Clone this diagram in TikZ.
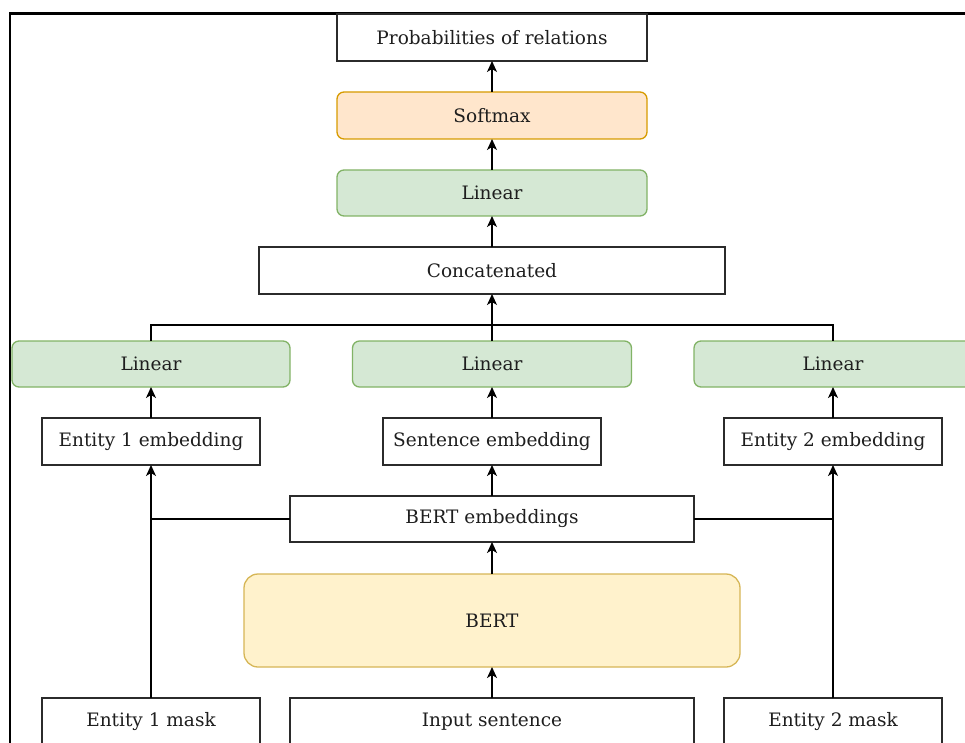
\documentclass[tikz,border=0pt]{standalone}
\usepackage{fontspec}
\setmainfont{DejaVu Serif}
\usetikzlibrary{arrows.meta,calc}
\definecolor{greenfill}{HTML}{D5E8D4}
\definecolor{greenline}{HTML}{82B366}
\definecolor{orangefill}{HTML}{FFE6CC}
\definecolor{orangeline}{HTML}{D79B00}
\definecolor{yellowfill}{HTML}{FFF2CC}
\definecolor{yellowline}{HTML}{D6B656}
\definecolor{boxline}{HTML}{2B2B2B}
\definecolor{txt}{HTML}{1E1E1E}
\tikzset{
  base/.style={inner sep=0pt, outer sep=0pt, line width=1.3pt, text=txt,
    font=\fontsize{18.5}{22}\selectfont},
  plainbox/.style={base, draw=boxline, fill=white},
  greenbox/.style={base, draw=greenline, fill=greenfill, rounded corners=7pt},
  orangebox/.style={base, draw=orangeline, fill=orangefill, rounded corners=7pt},
  yellowbox/.style={base, draw=yellowline, fill=yellowfill, rounded corners=14pt},
  conn/.style={line width=1.4pt, draw=black},
  arr/.style={conn, -{Stealth[length=11pt,width=10pt,inset=3pt]}},
}
\begin{document}
\begin{tikzpicture}[x=1pt,y=-1pt]
\useasboundingbox (0,0) rectangle (965,743);
\clip (0,0) rectangle (965,743);
% frame
\draw[line width=2.6pt, black] (10,760) -- (10,13.5) -- (980,13.5);
% nodes
\node[plainbox, minimum width=310pt, minimum height=47pt] (prob) at (492,37.5) {Probabilities of relations};
\node[orangebox, minimum width=310pt, minimum height=47pt] (soft) at (492,115.5) {Softmax};
\node[greenbox, minimum width=310pt, minimum height=46pt] (lintop) at (492,193) {Linear};
\node[plainbox, minimum width=466pt, minimum height=47pt] (concat) at (492,270.5) {Concatenated};
\node[greenbox, minimum width=278pt, minimum height=46pt] (linL) at (151,364) {Linear};
\node[greenbox, minimum width=279pt, minimum height=46pt] (linM) at (492,364) {Linear};
\node[greenbox, minimum width=278pt, minimum height=46pt] (linR) at (833,364) {Linear};
\node[plainbox, minimum width=218pt, minimum height=47pt] (emb1) at (151,441.5) {Entity 1 embedding};
\node[plainbox, minimum width=218pt, minimum height=47pt] (embS) at (492,441.5) {Sentence embedding};
\node[plainbox, minimum width=218pt, minimum height=47pt] (emb2) at (833,441.5) {Entity 2 embedding};
\node[plainbox, minimum width=404pt, minimum height=46pt] (bertemb) at (492,519) {BERT embeddings};
\node[yellowbox, minimum width=496pt, minimum height=93pt] (bert) at (492,620.5) {BERT};
\node[plainbox, minimum width=218pt, minimum height=47pt] (mask1) at (151,721.5) {Entity 1 mask};
\node[plainbox, minimum width=404pt, minimum height=47pt] (input) at (492,721.5) {Input sentence};
\node[plainbox, minimum width=218pt, minimum height=47pt] (mask2) at (833,721.5) {Entity 2 mask};
\coordinate (junc) at (492,325);
% connectors
\draw[arr] (input.north) -- (bert.south);
\draw[arr] (bert.north) -- (bertemb.south);
\draw[arr] (bertemb.north) -- (embS.south);
\draw[conn] (bertemb.west) -- (mask1.north |- bertemb.west);
\draw[conn] (bertemb.east) -- (mask2.north |- bertemb.east);
\draw[arr] (mask1.north) -- (emb1.south);
\draw[arr] (mask2.north) -- (emb2.south);
\draw[arr] (emb1.north) -- (linL.south);
\draw[arr] (embS.north) -- (linM.south);
\draw[arr] (emb2.north) -- (linR.south);
\draw[conn] (linL.north) |- (junc) -| (linR.north);
\draw[arr] (linM.north) -- (concat.south);
\draw[arr] (concat.north) -- (lintop.south);
\draw[arr] (lintop.north) -- (soft.south);
\draw[arr] (soft.north) -- (prob.south);
\end{tikzpicture}
\end{document}
